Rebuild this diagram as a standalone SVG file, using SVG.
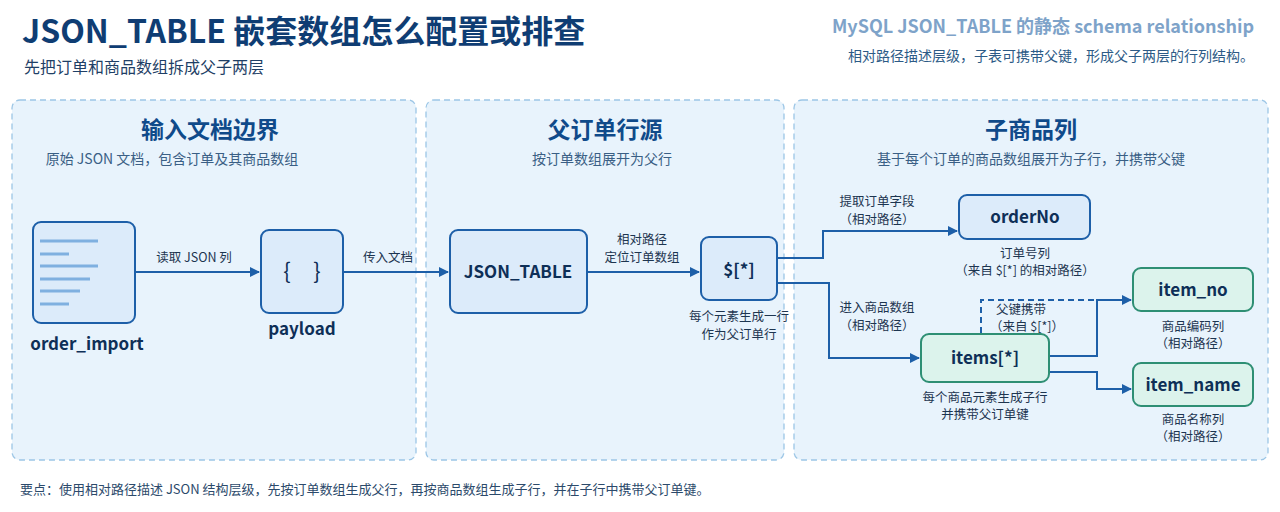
<svg xmlns="http://www.w3.org/2000/svg" width="1280" height="512" viewBox="0 0 1280 512">
<defs>
<marker id="ah" markerWidth="10" markerHeight="10" refX="9" refY="5" orient="auto" markerUnits="userSpaceOnUse"><path d="M0,0 L10,5 L0,10 z" fill="#1d5fa8"/></marker>
<style>
text{font-family:"Noto Sans CJK SC","Noto Sans",sans-serif}
.panel{fill:#e8f3fc;stroke:#9cc6e6;stroke-width:1.3;stroke-dasharray:6 4}
.ptitle{font-size:23px;font-weight:700;fill:#0f4a8a;text-anchor:middle}
.psub{font-size:14px;fill:#3a5f85;text-anchor:middle}
.blue{fill:#dcebfa;stroke:#1d5fa8;stroke-width:2}
.green{fill:#dcf3ec;stroke:#2e8f74;stroke-width:2}
.nl{font-size:17px;font-weight:700;fill:#0e2f57;text-anchor:middle}
.cap{font-size:12.5px;fill:#1d3550;text-anchor:middle}
.lbl{font-size:12.5px;fill:#1d3550;text-anchor:middle}
.ln{fill:none;stroke:#1d5fa8;stroke-width:2}
</style>
</defs>
<rect width="1280" height="512" fill="#ffffff"/>
<text x="22" y="43" font-size="32" font-weight="700" fill="#0f3d73">JSON_TABLE 嵌套数组怎么配置或排查</text>
<text x="24" y="73" font-size="16" fill="#1f3f66">先把订单和商品数组拆成父子两层</text>
<text x="1254" y="33" font-size="18" font-weight="700" fill="#7ea3c9" text-anchor="end">MySQL JSON_TABLE 的静态 schema relationship</text>
<text x="1254" y="61" font-size="14" fill="#2c5a86" text-anchor="end">相对路径描述层级，子表可携带父键，形成父子两层的行列结构。</text>

<rect class="panel" x="12" y="100" width="404" height="360" rx="8"/>
<rect class="panel" x="426" y="100" width="358" height="360" rx="8"/>
<rect class="panel" x="794" y="100" width="474" height="360" rx="8"/>
<text class="ptitle" x="210" y="138">输入文档边界</text>
<text class="psub" x="172" y="164">原始 JSON 文档，包含订单及其商品数组</text>
<text class="ptitle" x="605" y="138">父订单行源</text>
<text class="psub" x="602" y="164">按订单数组展开为父行</text>
<text class="ptitle" x="1031" y="138">子商品列</text>
<text class="psub" x="1031" y="164">基于每个订单的商品数组展开为子行，并携带父键</text>

<g id="connectors">
<path class="ln" d="M135,272 H259" marker-end="url(#ah)"/>
<text class="lbl" x="194" y="262">读取 JSON 列</text>
<path class="ln" d="M343,272 H448" marker-end="url(#ah)"/>
<text class="lbl" x="388" y="262">传入文档</text>
<path class="ln" d="M587,272 H699" marker-end="url(#ah)"/>
<text class="lbl" x="642" y="244">相对路径</text>
<text class="lbl" x="642" y="262">定位订单数组</text>
<path class="ln" d="M777,258 H823 V231 H957" marker-end="url(#ah)"/>
<text class="lbl" x="877" y="206">提取订单字段</text>
<text class="lbl" x="877" y="224">（相对路径）</text>
<path class="ln" d="M777,283 H829 V358 H919" marker-end="url(#ah)"/>
<text class="lbl" x="877" y="312">进入商品数组</text>
<text class="lbl" x="877" y="330">（相对路径）</text>
<path class="ln" d="M1049,356 H1097 V300 H1131" marker-end="url(#ah)"/>
<path class="ln" d="M1049,372 H1097 V389 H1131" marker-end="url(#ah)"/>
<path d="M981,333 V300 H1097" fill="none" stroke="#1d5fa8" stroke-width="2" stroke-dasharray="6 4"/>
<text class="lbl" x="1021" y="314">父键携带</text>
<text class="lbl" x="1027" y="331" font-size="12">（来自 $[*]）</text>
</g>

<g id="order_import">
<rect class="blue" x="33" y="222" width="102" height="101" rx="8"/>
<g stroke="#7fb0e0" stroke-width="3">
<line x1="40" y1="241" x2="98" y2="241"/><line x1="40" y1="254" x2="69" y2="254"/>
<line x1="40" y1="266" x2="98" y2="266"/><line x1="40" y1="279" x2="90" y2="279"/>
<line x1="40" y1="291" x2="80" y2="291"/><line x1="40" y1="304" x2="69" y2="304"/>
</g>
<text class="nl" x="87" y="350">order_import</text>
</g>
<g id="payload">
<rect class="blue" x="261" y="230" width="82" height="83" rx="8"/>
<text x="287" y="279" font-size="22" fill="#0e2f57" text-anchor="middle" font-family="Noto Sans,sans-serif">{</text>
<text x="317" y="279" font-size="22" fill="#0e2f57" text-anchor="middle" font-family="Noto Sans,sans-serif">}</text>
<text class="nl" x="302" y="335">payload</text>
</g>
<g id="json_table">
<rect class="blue" x="450" y="230" width="137" height="83" rx="8"/>
<text class="nl" x="518" y="278">JSON_TABLE</text>
</g>
<g id="root">
<rect class="blue" x="701" y="237" width="76" height="63" rx="8"/>
<text class="nl" x="739" y="276">$[*]</text>
<text class="cap" x="739" y="321">每个元素生成一行</text>
<text class="cap" x="739" y="339">作为父订单行</text>
</g>
<g id="orderNo">
<rect class="blue" x="959" y="195" width="131" height="44" rx="8"/>
<text class="nl" x="1025" y="223">orderNo</text>
<text class="cap" x="1025" y="258">订单号列</text>
<text class="cap" x="1025" y="275">（来自 $[*] 的相对路径）</text>
</g>
<g id="items">
<rect class="green" x="921" y="334" width="128" height="48" rx="8"/>
<text class="nl" x="985" y="364">items[*]</text>
<text class="cap" x="985" y="402">每个商品元素生成子行</text>
<text class="cap" x="985" y="419">并携带父订单键</text>
</g>
<g id="item_no">
<rect class="green" x="1133" y="268" width="120" height="43" rx="8"/>
<text class="nl" x="1193" y="296">item_no</text>
<text class="cap" x="1193" y="331">商品编码列</text>
<text class="cap" x="1193" y="348">（相对路径）</text>
</g>
<g id="item_name">
<rect class="green" x="1133" y="363" width="120" height="43" rx="8"/>
<text class="nl" x="1193" y="391">item_name</text>
<text class="cap" x="1193" y="424">商品名称列</text>
<text class="cap" x="1193" y="441">（相对路径）</text>
</g>
<text x="20" y="494" font-size="13" fill="#2c4a6b">要点：使用相对路径描述 JSON 结构层级，先按订单数组生成父行，再按商品数组生成子行，并在子行中携带父订单键。</text>
</svg>
